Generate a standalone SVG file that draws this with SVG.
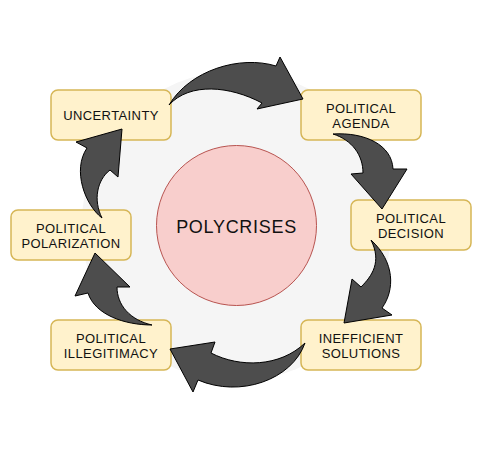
<svg xmlns="http://www.w3.org/2000/svg" width="482" height="450" viewBox="0 0 482 450">
<style>
.box{fill:#fff2cc;stroke:#d6b656;stroke-width:1.5}
.lbl{font-family:"Liberation Sans",Arial,sans-serif;font-size:13px;fill:#111;text-anchor:middle;letter-spacing:0.4px}
.arr{fill:#4d4d4d;stroke:#000;stroke-width:1;stroke-linejoin:miter}
</style>
<rect width="482" height="450" fill="#ffffff"/>
<g id="background"><circle cx="236.5" cy="226" r="155" fill="#f5f5f5"/></g>
<g id="polycrises">
<circle cx="236.5" cy="225.5" r="80" fill="#f8cecc" stroke="#b85450" stroke-width="1"/>
<text x="236.5" y="232.5" style="font-family:'Liberation Sans',Arial,sans-serif;font-size:18px;fill:#111;text-anchor:middle;letter-spacing:0.7px">POLYCRISES</text>
</g>
<g id="uncertainty">
<rect class="box" x="51" y="90" width="120" height="50" rx="7"/>
<text class="lbl" x="111" y="120">UNCERTAINTY</text>
</g>
<g id="political-agenda">
<rect class="box" x="301" y="90" width="120" height="50" rx="7"/>
<text class="lbl" x="361" y="112.5">POLITICAL</text>
<text class="lbl" x="361" y="128">AGENDA</text>
</g>
<g id="political-decision">
<rect class="box" x="351" y="200" width="120" height="50" rx="7"/>
<text class="lbl" x="411" y="222.5">POLITICAL</text>
<text class="lbl" x="411" y="238">DECISION</text>
</g>
<g id="inefficient-solutions">
<rect class="box" x="301" y="320" width="120" height="50" rx="7"/>
<text class="lbl" x="361" y="342.5">INEFFICIENT</text>
<text class="lbl" x="361" y="358">SOLUTIONS</text>
</g>
<g id="political-illegitimacy">
<rect class="box" x="51" y="320" width="120" height="50" rx="7"/>
<text class="lbl" x="111" y="342.5">POLITICAL</text>
<text class="lbl" x="111" y="358">ILLEGITIMACY</text>
</g>
<g id="political-polarization">
<rect class="box" x="11" y="210" width="120" height="50" rx="7"/>
<text class="lbl" x="71" y="232.5">POLITICAL</text>
<text class="lbl" x="71" y="248">POLARIZATION</text>
</g>
<g id="connectors">
<path class="arr" d="M169,105 C190,70 240,55 276,66 L280,57 L303,99 L257,109 L262,103 C230,86 190,82 169,105 Z"/>
<path class="arr" d="M333,134 C365,132 392,145 393,169 L407,169 L382,209 L351,174 L363,173 C363,155 352,140 333,134 Z"/>
<path class="arr" d="M371,240 C395,262 395,290 382,308 L392,315 L344,323 L352,279 L361,287 C372,276 382,262 371,240 Z"/>
<path class="arr" d="M305,343 C292,380 240,398 198,380 L193,392 L170,349 L215,342 L211,353 C240,368 280,367 305,343 Z"/>
<path class="arr" d="M152,325 C125,325 95,315 88,293 L75,296 L95,253 L130,287 L117,287 C117,305 130,320 152,325 Z"/>
<path class="arr" d="M102,218 C85,205 72,170 87,148 L76,142 L122,129 L118,177 L110,170 C97,180 93,200 102,218 Z"/>
</g>
</svg>
